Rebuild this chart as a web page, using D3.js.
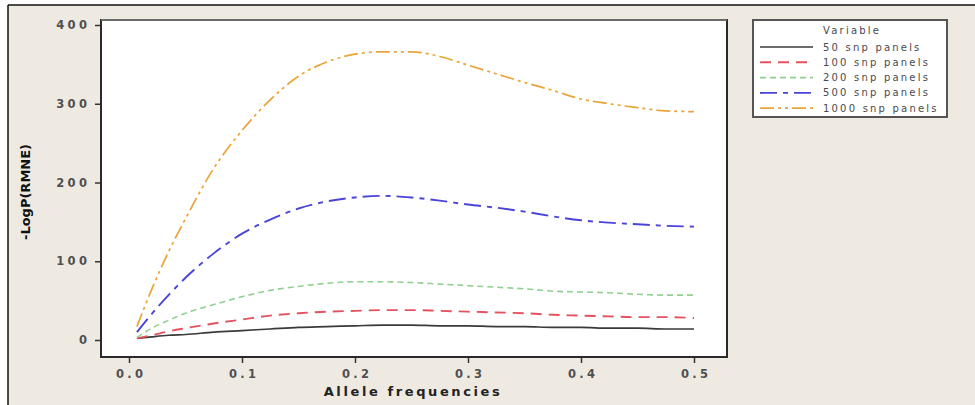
<!DOCTYPE html>
<html>
<head>
<meta charset="utf-8">
<script src="https://cdn.jsdelivr.net/npm/d3@7"></script>
<style>
  html, body { margin: 0; padding: 0; background: #ffffff; }
  svg { display: block; }
  text { font-family: "DejaVu Sans", Verdana, sans-serif; }
</style>
</head>
<body>
<svg id="chart" width="975" height="405"></svg>
<script>
// Allele frequencies sampled along the x axis
const freqs = [0.007, 0.02, 0.035, 0.05, 0.075, 0.1, 0.125, 0.15, 0.175, 0.2, 0.225, 0.25,
               0.275, 0.3, 0.325, 0.35, 0.375, 0.4, 0.425, 0.45, 0.475, 0.5];

// -LogP(RMNE) for each panel size
const snp50   = [2, 4, 6, 7, 10, 12, 14, 16, 17, 18, 19, 19, 18, 18, 17, 17, 16, 16, 15, 15, 14, 14];
const snp100  = [2, 6, 11, 15, 21, 26, 31, 34, 36, 37, 38, 38, 37, 36, 35, 34, 32, 31, 30, 29, 29, 28];
const snp200  = [3, 15, 25, 34, 45, 55, 63, 68, 72, 74, 74, 73, 71, 69, 67, 65, 62, 61, 60, 58, 57, 57];
const snp500  = [10, 33, 57, 79, 110, 135, 153, 167, 176, 181, 183, 181, 177, 172, 168, 163, 157, 152, 149, 147, 145, 144];
const snp1000 = [17, 64, 112, 154, 218, 266, 305, 335, 353, 363, 366, 366, 360, 349, 338, 327, 317, 306, 300, 295, 291, 290];

const seriesNames = ["50 snp panels", "100 snp panels", "200 snp panels", "500 snp panels", "1000 snp panels"];
const seriesValues = [snp50, snp100, snp200, snp500, snp1000];

const xTicks = [0, 0.1, 0.2, 0.3, 0.4, 0.5];
const yTicks = [0, 100, 200, 300, 400];

// Line styles per series
const styles = [
  { color: "#3a3a3a", dash: null,               width: 1.7 },
  { color: "#e4525e", dash: "11,7",             width: 1.9 },
  { color: "#90d090", dash: "6,4",              width: 1.6 },
  { color: "#4a44d8", dash: "17,6,5,6",         width: 1.9 },
  { color: "#eaa43a", dash: "14,4,3,4,3,4",     width: 1.7 }
];

const svg = d3.select("#chart");

// Beige panel with black edges along top and left
svg.append("rect").attr("x", 8).attr("y", 5).attr("width", 967).attr("height", 400).attr("fill", "#eeeae2");
svg.append("line").attr("x1", 8).attr("x2", 975).attr("y1", 5).attr("y2", 5).attr("stroke", "#111").attr("stroke-width", 1.5);
svg.append("line").attr("x1", 8).attr("x2", 8).attr("y1", 5).attr("y2", 405).attr("stroke", "#111").attr("stroke-width", 1.5);

const x = d3.scaleLinear().domain([0, 0.5]).range([129, 694]);
const y = d3.scaleLinear().domain([0, 400]).range([340, 25]);

// Data region
const frame = { left: 101, right: 727, top: 20, bottom: 357 };
svg.append("rect")
  .attr("x", frame.left).attr("y", frame.top)
  .attr("width", frame.right - frame.left).attr("height", frame.bottom - frame.top)
  .attr("fill", "#ffffff").attr("stroke", "#2a2a2a").attr("stroke-width", 2);
svg.append("line")
  .attr("x1", frame.left).attr("x2", frame.right).attr("y1", frame.top).attr("y2", frame.top)
  .attr("stroke", "#6a6a6a").attr("stroke-width", 2);

// Y axis ticks and labels
const yAxis = d3.axisLeft(y).tickValues(yTicks).tickSize(6).tickPadding(8).tickFormat(d3.format("d"));
const gy = svg.append("g").attr("transform", `translate(${frame.left},0)`).call(yAxis);
gy.select(".domain").remove();
gy.selectAll(".tick line").attr("stroke", "#333").attr("stroke-width", 1.5);
gy.selectAll(".tick text")
  .attr("fill", "#505050").attr("font-size", 11.5).attr("font-weight", "bold")
  .attr("letter-spacing", "3.4px").attr("dx", "3.4px")
  .style("font-family", "'DejaVu Sans', Verdana, sans-serif");

// X axis ticks and labels
const xAxis = d3.axisBottom(x).tickValues(xTicks).tickSize(6).tickPadding(7).tickFormat(d3.format(".1f"));
const gx = svg.append("g").attr("transform", `translate(0,${frame.bottom})`).call(xAxis);
gx.select(".domain").remove();
gx.selectAll(".tick line").attr("stroke", "#333").attr("stroke-width", 1.5);
gx.selectAll(".tick text")
  .attr("fill", "#505050").attr("font-size", 11.5).attr("font-weight", "bold")
  .attr("letter-spacing", "3.4px").attr("dx", "1.7px")
  .style("font-family", "'DejaVu Sans', Verdana, sans-serif");

// Axis titles
svg.append("text")
  .attr("x", 413).attr("y", 396)
  .attr("text-anchor", "middle")
  .attr("font-size", 13).attr("font-weight", "bold").attr("letter-spacing", "2.6px")
  .attr("fill", "#222")
  .text("Allele frequencies");
svg.append("text")
  .attr("transform", "translate(30,192) rotate(-90)")
  .attr("text-anchor", "middle")
  .attr("font-size", 13).attr("font-weight", "bold")
  .attr("fill", "#111")
  .text("-LogP(RMNE)");

// Curves
const line = d3.line()
  .x((d, i) => x(freqs[i]))
  .y(d => y(d))
  .curve(d3.curveMonotoneX);

seriesValues.forEach((vals, k) => {
  const st = styles[k];
  svg.append("path")
    .datum(vals)
    .attr("d", line)
    .attr("fill", "none")
    .attr("stroke", st.color)
    .attr("stroke-width", st.width)
    .attr("stroke-dasharray", st.dash);
});

// Legend
const lg = svg.append("g");
lg.append("rect")
  .attr("x", 753).attr("y", 20).attr("width", 194).attr("height", 97)
  .attr("fill", "#ffffff").attr("stroke", "#555").attr("stroke-width", 2);
lg.append("text")
  .attr("x", 823).attr("y", 34)
  .attr("font-size", 10).attr("letter-spacing", "2.2px").attr("fill", "#4a4a4a")
  .text("Variable");
seriesNames.forEach((name, k) => {
  const st = styles[k];
  const yy = 47 + k * 15.3;
  lg.append("line")
    .attr("x1", 760).attr("x2", 813).attr("y1", yy).attr("y2", yy)
    .attr("stroke", st.color).attr("stroke-width", st.width)
    .attr("stroke-dasharray", st.dash);
  lg.append("text")
    .attr("x", 823).attr("y", yy + 3.5)
    .attr("font-size", 10).attr("letter-spacing", "2.2px").attr("fill", "#4a4a4a")
    .text(name);
});
</script>
</body>
</html>
